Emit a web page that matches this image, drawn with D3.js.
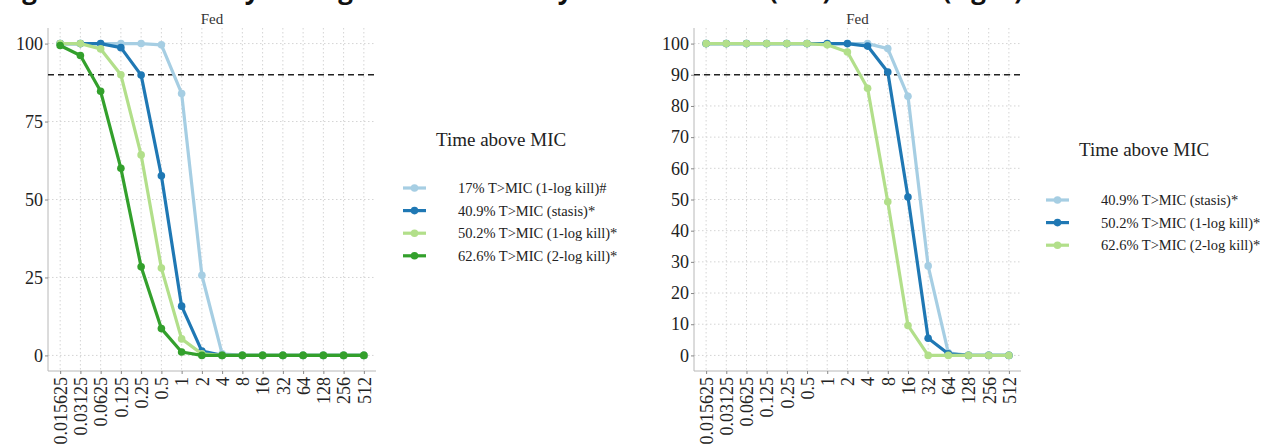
<!DOCTYPE html>
<html>
<head>
<meta charset="utf-8">
<script src="https://cdn.jsdelivr.net/npm/d3@7"></script>
<style>
  body { margin: 0; background: #fff; }
  svg { display: block; }
</style>
</head>
<body>
<script>
// MIC values (x categories)
var micLabels = ["0.015625", "0.03125", "0.0625", "0.125", "0.25", "0.5", "1", "2",
    "4", "8", "16", "32", "64", "128", "256", "512"];

// left panel, % probability of target attainment
var leftNames = ["17% T>MIC (1-log kill)#", "40.9% T>MIC (stasis)*",
    "50.2% T>MIC (1-log kill)*", "62.6% T>MIC (2-log kill)*"];
var left17 = [100, 100, 100, 100, 100, 99.6, 84, 25.7, 0.5, 0, 0, 0, 0, 0, 0, 0];
var left409 = [100, 100, 100, 98.7, 89.9, 57.6, 15.8, 1.4, 0, 0, 0, 0, 0, 0, 0, 0];
var left502 = [100, 100, 98.3, 90, 64.3, 28, 5.3, 0.5, 0, 0, 0, 0, 0, 0, 0, 0];
var left626 = [99.4, 96.2, 84.7, 60, 28.4, 8.6, 1.1, 0, 0, 0, 0, 0, 0, 0, 0, 0];

// right panel
var rightNames = ["40.9% T>MIC (stasis)*", "50.2% T>MIC (1-log kill)*",
    "62.6% T>MIC (2-log kill)*"];
var right409 = [100, 100, 100, 100, 100, 100, 100, 100, 100, 98.4, 83.1, 28.7, 0.8, 0, 0, 0];
var right502 = [100, 100, 100, 100, 100, 100, 100, 100, 99.2, 90.9, 50.8, 5.5, 0.5, 0, 0, 0];
var right626 = [100, 100, 100, 100, 100, 100, 99.6, 97.3, 85.7, 49.3, 9.6, 0, 0, 0, 0, 0];

var leftTicks = [0, 25, 50, 75, 100];
var rightTicks = [0, 10, 20, 30, 40, 50, 60, 70, 80, 90, 100];
var target = 90;

var W = 1276, H = 444;
var serif = "'Liberation Serif', 'DejaVu Serif', serif";

var svg = d3.select("body").append("svg")
    .attr("width", W)
    .attr("height", H);

// caption, cut off at the top of the picture as in the source figure
svg.append("text")
    .attr("x", 0)
    .attr("y", -1)
    .attr("font-family", "'Open Sans', 'Liberation Sans', sans-serif")
    .attr("font-weight", "bold")
    .attr("font-size", 26)
    .attr("fill", "#111")
    .text("Figure 3. Probability of target attainment by MIC for fasted (left) and fed (right)");

function drawPanel(opts) {
    var g = svg.append("g");
    var x = d3.scalePoint().domain(micLabels).range([opts.x0, opts.x1]).padding(0.6);
    var y = d3.scaleLinear().domain([-5, 105]).range([371, 28]);

    // grid
    g.append("g").selectAll("line.v")
        .data(micLabels).enter().append("line")
        .attr("x1", function (d) { return x(d); })
        .attr("x2", function (d) { return x(d); })
        .attr("y1", 28).attr("y2", 371)
        .attr("stroke", "#d4d4d4").attr("stroke-dasharray", "1.5,2.5");
    g.append("g").selectAll("line.h")
        .data(opts.ticks).enter().append("line")
        .attr("x1", opts.x0).attr("x2", opts.x1)
        .attr("y1", function (d) { return y(d); })
        .attr("y2", function (d) { return y(d); })
        .attr("stroke", "#d4d4d4").attr("stroke-dasharray", "1.5,2.5");

    // axes
    var ax = g.append("g")
        .attr("transform", "translate(0,371)")
        .call(d3.axisBottom(x).tickSize(3).tickPadding(3));
    ax.selectAll("text")
        .attr("transform", "rotate(-90)")
        .attr("x", -6).attr("y", 0).attr("dy", "0.35em")
        .style("text-anchor", "end");
    var ay = g.append("g")
        .attr("transform", "translate(" + opts.x0 + ",0)")
        .call(d3.axisLeft(y).tickValues(opts.ticks).tickSize(3).tickPadding(2));
    ax.select(".domain").attr("d", "M" + opts.x0 + ",0H" + opts.x1);
    ay.select(".domain").attr("d", "M0,28V371");
    g.selectAll(".domain").attr("stroke", "#b8b8b8");
    g.selectAll(".tick line").attr("stroke", "#888");
    g.selectAll(".tick text")
        .style("font-family", serif).style("font-size", "18px").attr("fill", "#222");

    // target line
    g.append("line")
        .attr("x1", opts.x0).attr("x2", opts.x1)
        .attr("y1", y(target)).attr("y2", y(target))
        .attr("stroke", "#222").attr("stroke-width", 1.3)
        .attr("stroke-dasharray", "6,4");

    // title
    g.append("text")
        .attr("x", (opts.x0 + opts.x1) / 2).attr("y", 24)
        .attr("text-anchor", "middle")
        .attr("font-family", serif).attr("font-size", 15).attr("fill", "#333")
        .text("Fed");

    var line = d3.line()
        .x(function (d, i) { return x(micLabels[i]); })
        .y(function (d) { return y(d); });

    opts.series.forEach(function (s, k) {
        var sg = g.append("g");
        sg.append("path")
            .datum(s)
            .attr("d", line)
            .attr("fill", "none")
            .attr("stroke", opts.colors[k])
            .attr("stroke-width", 3.2)
            .attr("stroke-linejoin", "round");
        sg.selectAll("circle")
            .data(s).enter().append("circle")
            .attr("cx", function (d, i) { return x(micLabels[i]); })
            .attr("cy", function (d) { return y(d); })
            .attr("r", 3.8)
            .attr("fill", opts.colors[k]);
    });

    // legend
    var lg = g.append("g");
    lg.append("text")
        .attr("x", opts.legX + 33).attr("y", opts.legTitleY)
        .attr("font-family", serif).attr("font-size", 19).attr("fill", "#222")
        .text("Time above MIC");
    opts.names.forEach(function (name, k) {
        var ly = opts.legY + k * 22.6;
        lg.append("line")
            .attr("x1", opts.legX).attr("x2", opts.legX + 23)
            .attr("y1", ly).attr("y2", ly)
            .attr("stroke", opts.colors[k]).attr("stroke-width", 3.2);
        lg.append("circle")
            .attr("cx", opts.legX + 11.5).attr("cy", ly).attr("r", 3.8)
            .attr("fill", opts.colors[k]);
        lg.append("text")
            .attr("x", opts.legX + 55).attr("y", ly).attr("dy", "0.35em")
            .attr("font-family", serif).attr("font-size", 14.5).attr("fill", "#222")
            .text(name);
    });
}

drawPanel({
    x0: 48, x1: 376, ticks: leftTicks,
    series: [left17, left409, left502, left626],
    names: leftNames,
    colors: ["#a6cee3", "#1f78b4", "#b2df8a", "#33a02c"],
    legX: 403, legTitleY: 146, legY: 188
});

drawPanel({
    x0: 694, x1: 1021, ticks: rightTicks,
    series: [right409, right502, right626],
    names: rightNames,
    colors: ["#a6cee3", "#1f78b4", "#b2df8a"],
    legX: 1046, legTitleY: 156, legY: 200
});
</script>
</body>
</html>
